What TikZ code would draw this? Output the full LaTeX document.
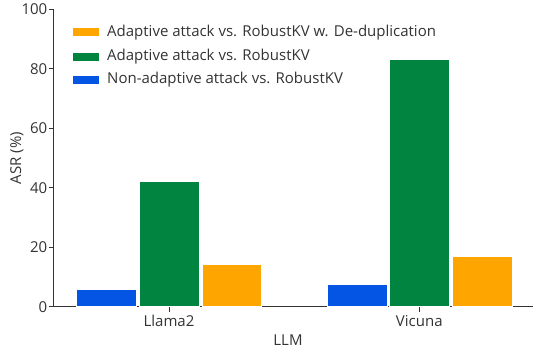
\documentclass[tikz,border=0pt]{standalone}
\usepackage{fontspec}
\setmainfont{Open Sans}
\usetikzlibrary{positioning}
\definecolor{barblue}{HTML}{0455E4}
\definecolor{bargreen}{HTML}{00843F}
\definecolor{barorange}{HTML}{FFA500}
\definecolor{axisgray}{HTML}{333333}
\begin{document}
\begin{tikzpicture}[x=1pt, y=-1pt,
		bar/.style = {draw=white, line width=0.5pt},
		lbl/.style = {font=\fontsize{15}{17}\selectfont, text=axisgray, inner sep=0pt},
		axis/.style = {draw=axisgray, line width=0.8pt}]
		\useasboundingbox (0,0) rectangle (533,349);
		
		% axes
		\draw[axis] (53.3,9.2) -- (53.3,306.7) -- (533,306.7);
		\foreach \v in {0,20,40,60,80,100} {
			\draw[axis] (48.8,306.7-2.975*\v) -- (53.3,306.7-2.975*\v);
			\node[lbl, anchor=east] (tick\v) at (47.5,306.7-2.975*\v) {\v};
		}
		\draw[axis] (169,306.7) -- (169,311.5);
		\draw[axis] (419.3,306.7) -- (419.3,311.5);
		\node[lbl] (llama) at (169,321) {Llama2};
		\node[lbl] (vicuna) at (419.3,321) {Vicuna};
		\node[lbl] (xlabel) at (288,340) {LLM};
		\node[lbl, rotate=90] (ylabel) at (17,158) {ASR (\%)};
		
		% bars
		\fill[barblue, bar] (76.7,306.7) rectangle (136.3,306.7-2.975*5.85);
		\fill[bargreen, bar] (139.3,306.7) rectangle (199,306.7-2.975*42.2);
		\fill[barorange, bar] (202,306.7) rectangle (261.7,306.7-2.975*14.25);
		\fill[barblue, bar] (327,306.7) rectangle (387,306.7-2.975*7.7);
		\fill[bargreen, bar] (389.7,306.7) rectangle (449.3,306.7-2.975*83.3);
		\fill[barorange, bar] (452.3,306.7) rectangle (512,306.7-2.975*17.1);
		
		% legend
		\fill[barorange] (72.7,28.2) rectangle (98.7,36.4);
		\fill[bargreen] (72.7,52.6) rectangle (98.7,60.8);
		\fill[barblue] (72.7,75.9) rectangle (98.7,84.1);
		\node[lbl, anchor=west] (leg1) at (107,32.3) {Adaptive attack vs. RobustKV w. De-duplication};
		\node[lbl, anchor=west] (leg2) at (107,56.7) {Adaptive attack vs. RobustKV};
		\node[lbl, anchor=west] (leg3) at (107,80) {Non-adaptive attack vs. RobustKV};
\end{tikzpicture}
\end{document}
